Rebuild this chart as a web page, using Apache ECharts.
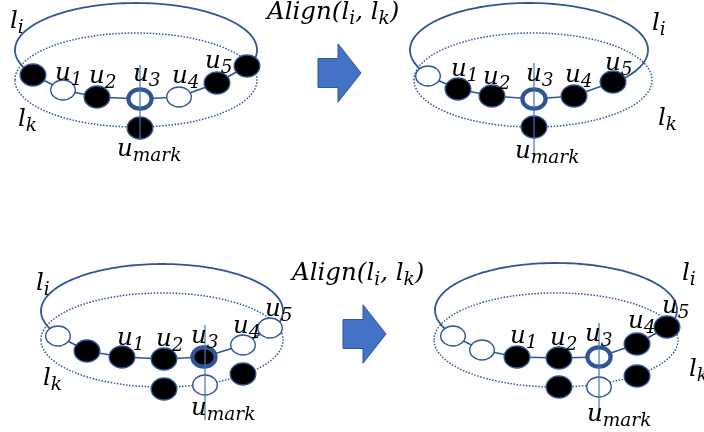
<!DOCTYPE html>
<html><head><meta charset="utf-8">
<script src="https://cdn.jsdelivr.net/npm/echarts@6/dist/echarts.min.js"></script>
<style>html,body{margin:0;padding:0;background:#fff}#c{width:704px;height:432px}</style>
</head><body><div id="c"></div>
<script>
// ---- data (diagram coordinates, pixel-like units) ----
// chain nodes: [x, y, kind]  kind: b=black, w=white, tw=thick white (u3), tb=thick black (u3)
const chainTL = [[33,75,'b'],[63,90,'w'],[97,97,'b'],[140,99,'tw'],[179,97,'w'],[217,83,'b'],[247,66,'b']];
const chainTR = [[428,76,'w'],[458,89,'b'],[492,96,'b'],[534,99,'tw'],[574,96,'b'],[613,82,'b']];
const chainBL = [[58,336,'w'],[87,351,'b'],[122,357,'b'],[164,359,'b'],[204,357,'tb'],[243,345,'w'],[270,328,'w']];
const chainBR = [[453,336,'w'],[482,350,'w'],[517,357,'b'],[559,358,'b'],[599,357,'tw'],[637,344,'b'],[667,327,'b']];
// nodes lying on the dotted loop l_k
const extraTL = [[140,128,'b']];
const extraTR = [[534,127,'b']];
const extraBL = [[164,389,'b'],[205,385,'w'],[243,374,'b']];
const extraBR = [[559,387,'b'],[599,387,'w'],[637,376,'b']];
// loop l_i (solid) and l_k (dotted) as [cx, cy, rx, ry]
const loopLi = [[136,50,121,47],[529,50,119,47],[162,311,121,47],[556,310,121,47]];
const loopLk = [[136,80,121,47],[533,80,119,47],[162,340,121,47],[556,340,122,47]];
// vertical marker lines [x, y1, y2]
const markLines = [[140,65,140],[534,63,157],[205,325,420],[599,323,418]];
// arrows [xStart, yMid, xTip]
const arrows = [[318,73,361],[343,334,386]];
// labels [leftX, midY, text]
const labels = [
  [10,22,'l_i'],[18,120,'l_k'],[55,74,'u_1'],[89,77,'u_2'],[133,75,'u_3'],[172,77,'u_4'],[205,62,'u_5'],[117,150,'u_mark'],
  [267,13,'Align(l_i, l_k)'],
  [652,24,'l_i'],[658,119,'l_k'],[451,70,'u_1'],[483,78,'u_2'],[526,75,'u_3'],[565,76,'u_4'],[605,64,'u_5'],[515,152,'u_mark'],
  [36,284,'l_i'],[43,379,'l_k'],[117,339,'u_1'],[156,340,'u_2'],[191,337,'u_3'],[233,327,'u_4'],[265,310,'u_5'],[191,409,'u_mark'],
  [292,274,'Align(l_i, l_k)'],
  [682,274,'l_i'],[689,370,'l_k'],[510,337,'u_1'],[550,339,'u_2'],[585,335,'u_3'],[628,322,'u_4'],[662,307,'u_5'],[587,415,'u_mark']
];

// ---- styles ----
const STROKE = '#2f5597';
const VLINE = '#4472c4';
const ARROW_FILL = '#4472c4';
const FAMILY = '"DejaVu Serif", "Liberation Serif", serif';
const kindCode = {b:0, w:1, tw:2, tb:3};

const chains = [chainTL, chainTR, chainBL, chainBR];
const extras = [extraTL, extraTR, extraBL, extraBR];
const allNodes = [];
chains.concat(extras).forEach(arr => arr.forEach(n => allNodes.push([n[0], n[1], kindCode[n[2]]])));

function toRich(s){
  return s.split(/(_[a-z0-9]+)/).filter(t => t.length).map(t =>
    t[0] === '_' ? '{s|' + t.slice(1) + '}' : '{b|' + t + '}').join('');
}

const chart = echarts.init(document.getElementById('c'), null, {renderer:'canvas'});
chart.setOption({
  animation:false,
  backgroundColor:'#fff',
  grid:{left:0,right:0,top:0,bottom:0},
  xAxis:{type:'value',min:0,max:704,show:false},
  yAxis:{type:'value',min:0,max:432,inverse:true,show:false},
  series:[
    { // dotted loops l_k
      type:'custom', clip:false, silent:true, data:loopLk,
      renderItem(params, api){
        const c = api.coord([api.value(0), api.value(1)]);
        const s = api.size([api.value(2), api.value(3)]);
        return {type:'ellipse', shape:{cx:c[0],cy:c[1],rx:s[0],ry:s[1]},
          style:{fill:'none',stroke:STROKE,lineWidth:1.5,lineDash:[1.5,1.6]}};
      }
    },
    { // solid loops l_i, from the first chain node over the top to the last
      type:'custom', clip:false, silent:true, data:loopLi,
      renderItem(params, api){
        const cx = api.value(0), cy = api.value(1), rx = api.value(2), ry = api.value(3);
        const ch = chains[params.dataIndex];
        const a = ch[0], b = ch[ch.length-1];
        const t0 = Math.atan2((a[1]-cy)/ry, (a[0]-cx)/rx);
        let t1 = Math.atan2((b[1]-cy)/ry, (b[0]-cx)/rx);
        if (t1 < t0) t1 += 2*Math.PI;
        const pts = [];
        const N = 120;
        for (let i=0;i<=N;i++){
          const t = t0 + (t1-t0)*i/N;
          pts.push(api.coord([cx + rx*Math.cos(t), cy + ry*Math.sin(t)]));
        }
        return {type:'polyline', shape:{points:pts}, style:{fill:'none',stroke:STROKE,lineWidth:1.8}};
      }
    },
    { // chain edges
      type:'custom', clip:false, silent:true, data:chains.map(c => [c[0][0], c[0][1]]),
      renderItem(params, api){
        const pts = chains[params.dataIndex].map(n => api.coord([n[0], n[1]]));
        return {type:'polyline', shape:{points:pts}, style:{fill:'none',stroke:STROKE,lineWidth:1.7}};
      }
    },
    { // nodes
      type:'custom', clip:false, silent:true, data:allNodes,
      renderItem(params, api){
        const c = api.coord([api.value(0), api.value(1)]);
        const k = api.value(2);
        let shape, style;
        if (k === 0){ shape={rx:12.8,ry:11}; style={fill:'#000',stroke:STROKE,lineWidth:1.4}; }
        else if (k === 1){ shape={rx:12.3,ry:10}; style={fill:'#fff',stroke:STROKE,lineWidth:1.4}; }
        else if (k === 2){ shape={rx:11.6,ry:9.6}; style={fill:'#fff',stroke:STROKE,lineWidth:4.2}; }
        else { shape={rx:11.6,ry:9.6}; style={fill:'#000',stroke:STROKE,lineWidth:4.2}; }
        shape.cx = c[0]; shape.cy = c[1];
        return {type:'ellipse', shape, style};
      }
    },
    { // vertical marker lines
      type:'custom', clip:false, silent:true, data:markLines,
      renderItem(params, api){
        const p1 = api.coord([api.value(0), api.value(1)]);
        const p2 = api.coord([api.value(0), api.value(2)]);
        return {type:'line', shape:{x1:p1[0],y1:p1[1],x2:p2[0],y2:p2[1]}, style:{stroke:VLINE,lineWidth:1.2}};
      }
    },
    { // block arrows
      type:'custom', clip:false, silent:true, data:arrows,
      renderItem(params, api){
        const s = api.coord([api.value(0), api.value(1)]);
        const e = api.coord([api.value(2), api.value(1)]);
        const hx = e[0] - 23, sh = 14.5, hh = 29.2;
        const pts = [[s[0],s[1]-sh],[hx,s[1]-sh],[hx,s[1]-hh],[e[0],s[1]],[hx,s[1]+hh],[hx,s[1]+sh],[s[0],s[1]+sh]];
        return {type:'polygon', shape:{points:pts}, style:{fill:ARROW_FILL,stroke:STROKE,lineWidth:1}};
      }
    },
    { // labels
      type:'custom', clip:false, silent:true, data:labels.map(l => [l[0], l[1]]),
      renderItem(params, api){
        const c = api.coord([api.value(0), api.value(1)]);
        return {type:'text', style:{
          text: toRich(labels[params.dataIndex][2]), x:c[0], y:c[1], align:'left', verticalAlign:'middle',
          fill:'#000',
          rich:{
            b:{fontFamily:FAMILY,fontStyle:'italic',fontSize:24.5,fill:'#000',lineHeight:28},
            s:{fontFamily:FAMILY,fontStyle:'italic',fontSize:18.5,fill:'#000',padding:[13,0,0,0],lineHeight:22}
          }
        }};
      }
    }
  ]
});
</script></body></html>
